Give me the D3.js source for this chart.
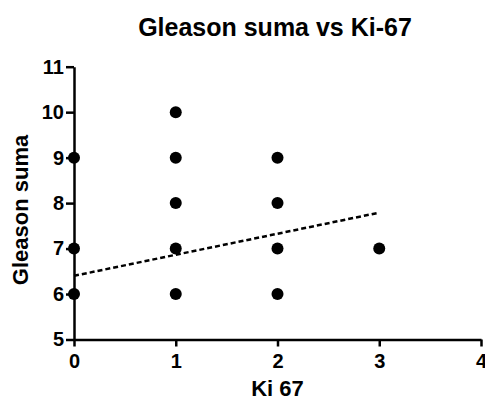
<!DOCTYPE html>
<html>
<head>
<meta charset="utf-8">
<script src="https://cdn.jsdelivr.net/npm/d3@7"></script>
<style>
  body { margin: 0; background: #fff; }
  svg { display: block; font-family: "Liberation Sans", Arial, sans-serif; font-weight: bold; }
</style>
</head>
<body>
<svg id="chart" width="485" height="400"></svg>
<script>
// data
const ki67 = [0, 0, 0, 1, 1, 1, 1, 1, 2, 2, 2, 2, 3]
const gleason = [9, 7, 6, 10, 9, 8, 7, 6, 9, 8, 7, 6, 7]
// linear fit, end points
const fitX = [0, 3]
const fitY = [6.4, 7.79]
const xTicks = [0, 1, 2, 3, 4]
const yTicks = [5, 6, 7, 8, 9, 10, 11]

const svg = d3.select('#chart')
const x = d3.scaleLinear().domain([0, 4]).range([74, 481])
const y = d3.scaleLinear().domain([5, 11]).range([339.5, 66.7])

// axes
const xAxis = svg.append('g')
  .attr('transform', `translate(0,${y(5)})`)
  .call(d3.axisBottom(x).tickValues(xTicks).tickFormat(d3.format('d'))
    .tickSize(7).tickPadding(6).tickSizeOuter(0))
const yAxis = svg.append('g')
  .attr('transform', `translate(${x(0)},0)`)
  .call(d3.axisLeft(y).tickValues(yTicks).tickFormat(d3.format('d'))
    .tickSize(8).tickPadding(2).tickSizeOuter(0))

for (const ax of [xAxis, yAxis]) {
  ax.selectAll('path, line').attr('stroke', '#000').attr('stroke-width', 2.5)
  ax.selectAll('text').attr('fill', '#000').style('font-size', '20px').style('font-family', 'inherit')
}
xAxis.selectAll('text').attr('dy', '0.75em')

// fit line
svg.append('path')
  .datum(fitX.map((d, i) => [d, fitY[i]]))
  .attr('fill', 'none')
  .attr('stroke', '#000')
  .attr('stroke-width', 2.5)
  .attr('stroke-dasharray', '5,3')
  .attr('d', d3.line().x(d => x(d[0])).y(d => y(d[1])))

// points
svg.append('g')
  .selectAll('circle')
  .data(ki67)
  .join('circle')
  .attr('cx', d => x(d))
  .attr('cy', (d, i) => y(gleason[i]))
  .attr('r', 6)
  .attr('fill', '#000')

// labels
svg.append('text')
  .attr('x', 275).attr('y', 36)
  .attr('text-anchor', 'middle')
  .style('font-size', '25px')
  .text('Gleason suma vs Ki-67')

svg.append('text')
  .attr('x', 277.5).attr('y', 396)
  .attr('text-anchor', 'middle')
  .style('font-size', '22px')
  .text('Ki 67')

svg.append('text')
  .attr('transform', 'translate(28,210) rotate(-90)')
  .attr('text-anchor', 'middle')
  .style('font-size', '22px')
  .text('Gleason suma')
</script>
</body>
</html>
